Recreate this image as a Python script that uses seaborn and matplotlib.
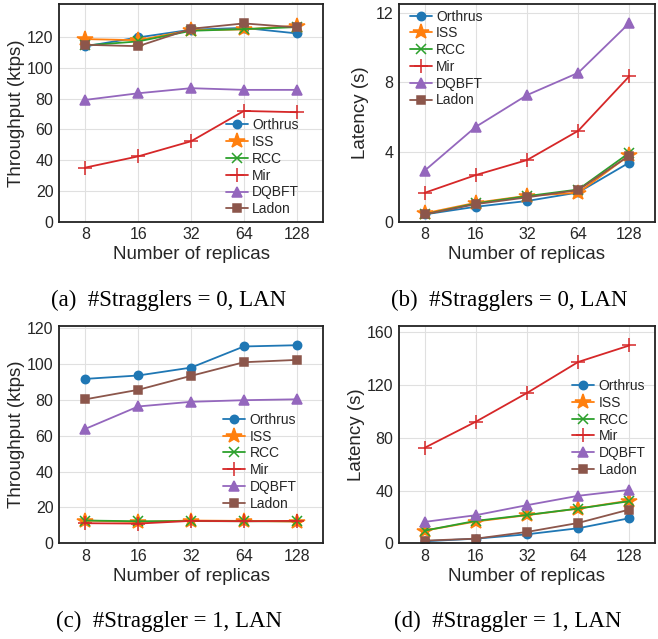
import numpy as np
import pandas as pd
import matplotlib
matplotlib.use('Agg')
import matplotlib.pyplot as plt
import seaborn as sns

# Dados
replicas = ['8', '16', '32', '64', '128']
systems = ['Orthrus', 'ISS', 'RCC', 'Mir', 'DQBFT', 'Ladon']

# (a) throughput, 0 stragglers
tput0_orthrus = [114.0, 119.8, 124.8, 126.0, 122.4]
tput0_iss = [118.7, 118.0, 124.5, 125.0, 127.4]
tput0_rcc = [114.6, 117.2, 124.1, 125.2, 126.5]
tput0_mir = [35.2, 42.5, 52.3, 72.0, 71.2]
tput0_dqbft = [79.2, 83.5, 86.8, 85.7, 85.7]
tput0_ladon = [115.0, 114.1, 125.4, 128.9, 126.3]

# (b) latency, 0 stragglers
lat0_orthrus = [0.42, 0.86, 1.19, 1.68, 3.40]
lat0_iss = [0.48, 1.09, 1.49, 1.66, 3.82]
lat0_rcc = [0.42, 1.05, 1.47, 1.85, 3.96]
lat0_mir = [1.66, 2.68, 3.54, 5.22, 8.36]
lat0_dqbft = [2.93, 5.45, 7.27, 8.55, 11.41]
lat0_ladon = [0.42, 1.01, 1.40, 1.82, 3.80]

# (c) throughput, 1 straggler
tput1_orthrus = [91.8, 93.7, 98.1, 109.9, 110.6]
tput1_iss = [12.7, 11.9, 12.7, 12.5, 12.1]
tput1_rcc = [12.7, 12.3, 12.4, 12.3, 12.3]
tput1_mir = [11.2, 11.0, 12.5, 12.3, 12.5]
tput1_dqbft = [63.9, 76.4, 79.0, 79.9, 80.4]
tput1_ladon = [80.4, 85.7, 93.5, 101.1, 102.4]

# (d) latency, 1 straggler
lat1_orthrus = [1.5, 3.5, 6.8, 11.4, 19.0]
lat1_iss = [9.6, 16.5, 21.3, 26.3, 32.4]
lat1_rcc = [9.6, 17.0, 21.5, 26.3, 31.9]
lat1_mir = [72.4, 92.2, 114.0, 137.5, 150.0]
lat1_dqbft = [16.2, 21.3, 28.9, 36.0, 40.5]
lat1_ladon = [2.0, 3.5, 8.6, 15.4, 25.6]

sns.set_style("whitegrid", {'grid.color': '#e0e0e0', 'axes.edgecolor': '.1'})
plt.rcParams['font.family'] = ['Liberation Sans', 'DejaVu Sans']

palette = sns.color_palette('tab10')
styles = {
    'Orthrus': ('o', 6),
    'ISS': ('*', 11.5),
    'RCC': ('x', 6.5),
    'Mir': ('+', 10),
    'DQBFT': ('^', 7.5),
    'Ladon': ('s', 5.5),
}


def draw_panel(ax, series, ylabel, ylim, yticks, legend_loc, legend_anchor, ypad):
    for idx, name in enumerate(systems):
        marker, ms = styles[name]
        color = palette[idx]
        df = pd.DataFrame({'replicas': replicas, 'value': series[idx]})
        sns.lineplot(data=df, x='replicas', y='value', ax=ax, color=color,
                     marker=marker, markersize=ms, markeredgecolor=color,
                     markeredgewidth=1.1, linewidth=1.3, label=name, sort=False)
    ax.set_xlim(-0.5, 4.5)
    ax.set_ylim(*ylim)
    ax.set_yticks(yticks)
    ax.set_xlabel('Number of replicas', fontsize=13.5, labelpad=3)
    ax.set_ylabel(ylabel, fontsize=13.5, labelpad=ypad)
    ax.tick_params(axis='both', labelsize=11.5, length=0, pad=4)
    for sp in ax.spines.values():
        sp.set_linewidth(1.3)
        sp.set_color('#222222')
    ax.legend(loc=legend_loc, bbox_to_anchor=legend_anchor, frameon=False,
              fontsize=10, labelspacing=0.2, handlelength=1.6,
              handletextpad=0.3, borderpad=0.2, borderaxespad=0.2)


fig = plt.figure(figsize=(6.58, 6.39), dpi=100)
ax_a = fig.add_axes([0.0897, 0.653, 0.4013, 0.3407])
ax_b = fig.add_axes([0.6064, 0.653, 0.3890, 0.3407])
ax_c = fig.add_axes([0.0897, 0.1498, 0.4013, 0.3405])
ax_d = fig.add_axes([0.6064, 0.1498, 0.3890, 0.3405])

draw_panel(ax_a, [tput0_orthrus, tput0_iss, tput0_rcc, tput0_mir, tput0_dqbft, tput0_ladon],
           'Throughput (ktps)', (0, 141.5), [0, 20, 40, 60, 80, 100, 120],
           'lower right', (0.93, 0.0), 1)
draw_panel(ax_b, [lat0_orthrus, lat0_iss, lat0_rcc, lat0_mir, lat0_dqbft, lat0_ladon],
           'Latency (s)', (0, 12.5), [0, 4, 8, 12],
           'upper left', (0.02, 1.0), 5)
draw_panel(ax_c, [tput1_orthrus, tput1_iss, tput1_rcc, tput1_mir, tput1_dqbft, tput1_ladon],
           'Throughput (ktps)', (0, 121.5), [0, 20, 40, 60, 80, 100, 120],
           'center right', (0.92, 0.375), 1)
draw_panel(ax_d, [lat1_orthrus, lat1_iss, lat1_rcc, lat1_mir, lat1_dqbft, lat1_ladon],
           'Latency (s)', (0, 165), [0, 40, 80, 120, 160],
           'center right', (0.985, 0.53), 1)

# Legendas das subfiguras
cap_kw = dict(family=['Liberation Serif', 'DejaVu Serif'], fontsize=16.5,
              ha='center', va='baseline', color='black')
fig.text(168.5 / 658, 1 - 306 / 639, '(a)  #Stragglers = 0, LAN', **cap_kw)
fig.text(509 / 658, 1 - 306 / 639, '(b)  #Stragglers = 0, LAN', **cap_kw)
fig.text(169 / 658, 1 - 627 / 639, '(c)  #Straggler = 1, LAN', **cap_kw)
fig.text(508 / 658, 1 - 627 / 639, '(d)  #Straggler = 1, LAN', **cap_kw)

fig.savefig('out.png', dpi=100)
plt.close(fig)
